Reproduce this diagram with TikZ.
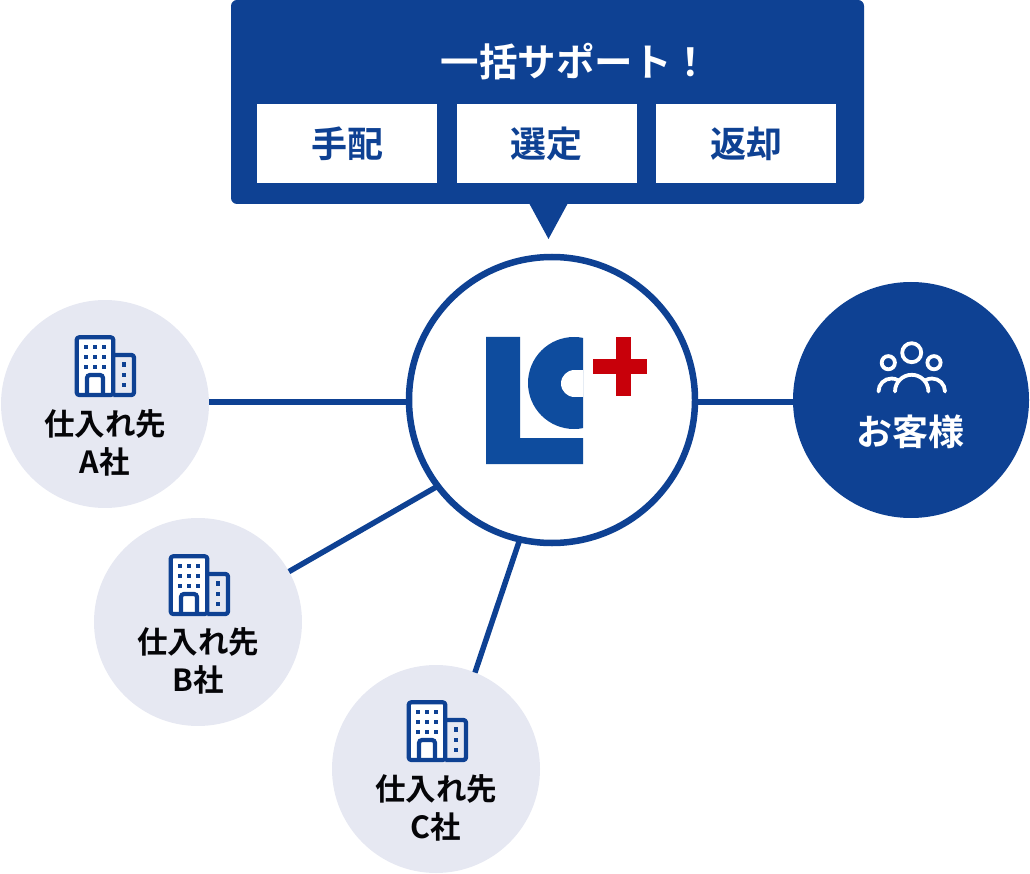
\documentclass[tikz,border=0pt]{standalone}
\usepackage{fontspec}
\setmainfont{Noto Sans CJK JP}[BoldFont={Noto Sans CJK JP Bold}]
\definecolor{navy}{HTML}{0E4193}
\definecolor{pale}{HTML}{E6E8F2}
\definecolor{logoblue}{HTML}{0E4C9E}
\definecolor{logored}{HTML}{C8000A}
\definecolor{ink}{HTML}{050508}
\tikzset{
  sat/.style={circle,fill=pale,minimum size=208pt,inner sep=0pt,outer sep=0pt},
  link/.style={draw=navy,line width=5.5pt},
  tab/.style={fill=white,inner sep=0pt,outer sep=0pt,minimum width=180pt,minimum height=79pt,text=navy,font=\fontsize{36}{40}\selectfont\bfseries},
  satlabel/.style={align=center,text=ink,inner sep=0pt,font=\fontsize{30.5}{38}\selectfont\bfseries},
  bld/.pic={
    \draw[navy,line width=4.2pt,line join=round,fill=white,rounded corners=2.5pt] (1.7,1.3) rectangle (38.3,59);
    \draw[navy,line width=4.2pt,line join=round,rounded corners=2.5pt] (38.3,19) -- (59,19) -- (59,59) -- (38.3,59);
    \foreach \wx in {11,19.9,28.9} \foreach \wy in {10.7,21,31}
      \fill[navy] (\wx-2.1,\wy-2.1) rectangle (\wx+2.1,\wy+2.1);
    \foreach \wy in {28.3,39,49}
      \fill[navy] (49-2.2,\wy-2.2) rectangle (49+2.2,\wy+2.2);
    \draw[navy,line width=4.2pt,rounded corners=3pt] (12,59) -- (12,39) -- (28,39) -- (28,59);
  }
}
\begin{document}
\begin{tikzpicture}[x=1pt,y=-1pt]
\useasboundingbox (0,0) rectangle (1030,874);
% header
\fill[navy] (529,203) -- (568,203) -- (548.5,239) -- cycle;
\node[fill=navy,rounded corners=6pt,minimum width=633pt,minimum height=204pt,inner sep=0pt,outer sep=0pt] (head) at (547.5,102) {};
\node[text=white,inner sep=0pt,font=\fontsize{38.5}{42}\selectfont\bfseries] (title) at (575.5,62) {一括サポート！};
\node[tab] (t1) at (347,143.5) {手配};
\node[tab] (t2) at (546.5,143.5) {選定};
\node[tab] (t3) at (746,143.5) {返却};
% circles
\node[sat] (a) at (105,404) {};
\node[sat] (b) at (198,622) {};
\node[sat] (c) at (436,769) {};
\node[circle,draw=navy,line width=6.5pt,fill=white,minimum size=286pt,inner sep=0pt,outer sep=0pt] (main) at (552,400) {};
\node[circle,fill=navy,minimum size=236pt,inner sep=0pt,outer sep=0pt] (cust) at (911,400) {};
% connectors
\coordinate (ya) at (0,402);
\draw[link] (a.east |- ya) -- (main.west |- ya);
\draw[link] (main.east |- ya) -- (cust.west |- ya);
\draw[link] (b.29) -- (main.217);
\draw[link] (c.68) -- (main.257.6);
% icons
\pic at (75,336) {bld};
\pic at (169,555) {bld};
\pic at (407,701) {bld};
% labels
\node[satlabel] (la) at (105,443) {仕入れ先\\A社};
\node[satlabel] (lb) at (198,661) {仕入れ先\\B社};
\node[satlabel] (lc) at (436,808) {仕入れ先\\C社};
\node[text=white,inner sep=0pt,font=\fontsize{36}{40}\selectfont\bfseries] (lcust) at (910,432) {お客様};
% people icon
\begin{scope}[draw=white,line width=3.8pt,line cap=round]
\draw (911.7,352.7) circle[radius=9.5];
\draw (888.3,362.7) circle[radius=6.6];
\draw (934,362.7) circle[radius=6.6];
\draw (895,391.5) arc[start angle=180,end angle=360,radius=16.7];
\draw (878.5,391.5) arc[start angle=180,end angle=300,radius=13];
\draw (945,391.5) arc[start angle=360,end angle=240,radius=13];
\end{scope}
% logo
\fill[logoblue] (486,337) -- (520,337) -- (520,438) -- (583,438) -- (583,464) -- (486,464) -- cycle;
\begin{scope}
\clip (520,330) rectangle (583,435);
\fill[logoblue] (574,383) circle[radius=46];
\fill[white] (574.5,383.5) circle[radius=13.5];
\fill[white] (574.5,370) rectangle (584,397);
\end{scope}
\fill[logored] (615.7,336.7) rectangle (630.7,395.7);
\fill[logored] (593.3,359) rectangle (647.3,374);
\end{tikzpicture}
\end{document}
